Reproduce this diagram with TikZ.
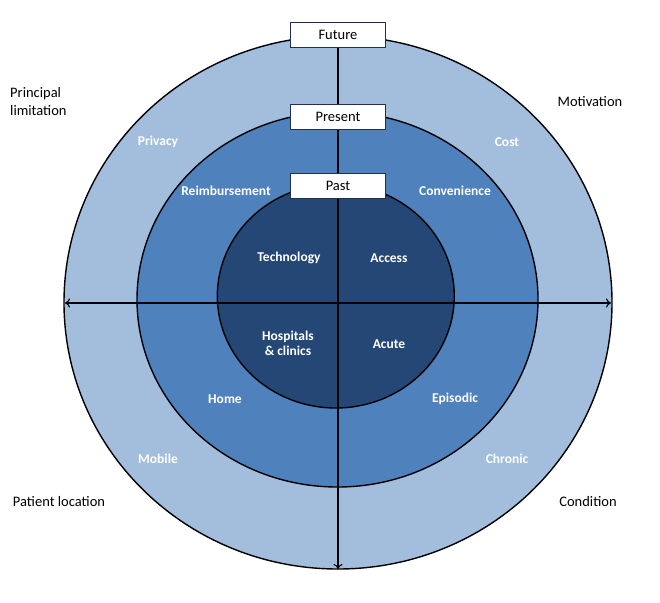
\documentclass[tikz,border=0pt]{standalone}
\usepackage{fontspec}
\setmainfont{Carlito}
\usetikzlibrary{shapes.geometric,arrows.meta}
\definecolor{outerblue}{HTML}{A3BDDD}
\definecolor{midblue}{HTML}{4F81BD}
\definecolor{innerblue}{HTML}{254776}
\definecolor{boxline}{HTML}{1F3050}
\tikzset{
  ring/.style={ellipse, draw=black, line width=1.4pt, inner sep=0pt, outer sep=0pt},
  era/.style={draw=boxline, fill=white, line width=1.3pt, minimum width=95pt, minimum height=25pt, inner sep=0pt, font=\fontsize{14.5}{16}\selectfont},
  wlab/.style={text=white, font=\bfseries\fontsize{13.5}{15}\selectfont, align=center, inner sep=0pt},
  blab/.style={text=black, font=\fontsize{14.5}{18}\selectfont, inner sep=0pt},
  axis/.style={line width=1.1pt, draw=black}
}
\begin{document}
\begin{tikzpicture}[x=1pt,y=-1pt]
\useasboundingbox (0,0) rectangle (660,602);
% rings
\node[ring, fill=outerblue, minimum width=548pt, minimum height=533pt] (outer) at (338,302.5) {};
\node[ring, fill=midblue, minimum width=401pt, minimum height=375pt] (middle) at (337.5,299.5) {};
\node[ring, fill=innerblue, minimum width=237pt, minimum height=224pt] (inner) at (335.8,296) {};
% axis end points
\coordinate (L) at (65,303);
\coordinate (R) at (611,303);
\coordinate (B) at (338,569);
\coordinate (T) at (338,48);
\draw[axis, {To[length=5pt,width=9pt]}-{To[length=5pt,width=9pt]}] (L) -- (R);
\draw[axis, -{To[length=5pt,width=9pt]}] (T) -- (B);
% era boxes
\node[era] (future) at (338,35) {Future};
\node[era] (present) at (338,117) {Present};
\node[era] (past) at (338,186) {Past};
% white labels
\node[wlab] (privacy) at (158,142) {Privacy};
\node[wlab] (cost) at (507,142) {Cost};
\node[wlab] (reimb) at (226,191) {Reimbursement};
\node[wlab] (conv) at (455,191) {Convenience};
\node[wlab] (tech) at (289,258) {Technology};
\node[wlab] (access) at (389,258) {Access};
\node[wlab] (hosp) at (288,343) {Hospitals\\\& clinics};
\node[wlab] (acute) at (389,344) {Acute};
\node[wlab] (home) at (225,399) {Home};
\node[wlab] (episodic) at (455,399) {Episodic};
\node[wlab] (mobile) at (158,459) {Mobile};
\node[wlab] (chronic) at (507,459) {Chronic};
% black labels
\node[blab, align=left, anchor=west] (princ) at (10,102) {Principal\\limitation};
\node[blab] (motiv) at (590,102) {Motivation};
\node[blab] (patloc) at (59,502) {Patient location};
\node[blab] (cond) at (588,502) {Condition};
\end{tikzpicture}
\end{document}
